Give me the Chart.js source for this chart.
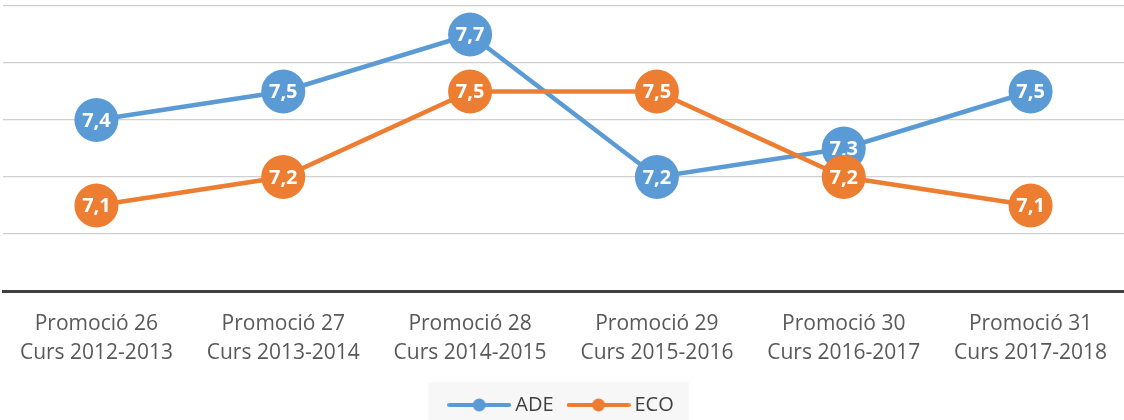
<!DOCTYPE html>
<html>
<head>
<meta charset="utf-8">
<script src="https://cdn.jsdelivr.net/npm/chart.js@4/dist/chart.umd.min.js"></script>
<style>
  html, body { margin: 0; padding: 0; background: #ffffff; }
  #wrap { width: 1124px; height: 420px; position: relative; }
</style>
</head>
<body>
<div id="wrap"><canvas id="myChart"></canvas></div>
<script>
// categories (two-line labels)
var promos = ['Promoció 26', 'Promoció 27', 'Promoció 28', 'Promoció 29', 'Promoció 30', 'Promoció 31'];
var cursos = ['Curs 2012-2013', 'Curs 2013-2014', 'Curs 2014-2015', 'Curs 2015-2016', 'Curs 2016-2017', 'Curs 2017-2018'];

// series values
var adeValues = [7.4, 7.5, 7.7, 7.2, 7.3, 7.5];
var ecoValues = [7.1, 7.2, 7.5, 7.5, 7.2, 7.1];

// y axis range
var yMin = 6.8;
var yMax = 7.8;
var yStep = 0.2;

var blue = '#5b9bd5';
var orange = '#ed7d31';
var fontName = '"Open Sans", "Liberation Sans", sans-serif';

// legend sample: line with dot in the middle
function legendSample(color) {
    var c = document.createElement('canvas');
    c.width = 64;
    c.height = 16;
    var g = c.getContext('2d');
    g.strokeStyle = color;
    g.lineWidth = 4;
    g.lineCap = 'round';
    g.beginPath();
    g.moveTo(2, 8);
    g.lineTo(62, 8);
    g.stroke();
    g.fillStyle = color;
    g.beginPath();
    g.arc(32, 8, 6.5, 0, Math.PI * 2);
    g.fill();
    return c;
}

// value labels written inside the points
var pointLabels = {
    id: 'pointLabels',
    afterDatasetDraw: function (chart, args) {
        var ctx = chart.ctx;
        var ds = chart.data.datasets[args.index];
        ctx.save();
        ctx.font = 'bold 20px ' + fontName;
        ctx.fillStyle = '#ffffff';
        ctx.textAlign = 'center';
        ctx.textBaseline = 'middle';
        args.meta.data.forEach(function (pt, i) {
            ctx.fillText(String(ds.data[i]).replace('.', ','), pt.x, pt.y + 1);
        });
        ctx.restore();
    }
};

// light grey box behind the legend
var legendBox = {
    id: 'legendBox',
    beforeDraw: function (chart) {
        var boxes = chart.legend && chart.legend.legendHitBoxes;
        if (!boxes || !boxes.length) return;
        var left = Math.min.apply(null, boxes.map(function (b) { return b.left; }));
        var right = Math.max.apply(null, boxes.map(function (b) { return b.left + b.width; }));
        var cy = boxes[0].top + boxes[0].height / 2;
        var ctx = chart.ctx;
        ctx.save();
        ctx.fillStyle = '#f7f7f7';
        ctx.fillRect(left - 25, cy - 23, right - left + 40, chart.height - (cy - 23));
        ctx.restore();
    }
};

var labels = promos.map(function (p, i) { return [p, cursos[i]]; });

var chartData = {
    labels: labels,
    datasets: [
        {
            label: 'ADE',
            data: adeValues,
            borderColor: blue,
            backgroundColor: blue,
            borderWidth: 4.5,
            pointRadius: 22,
            pointHoverRadius: 22,
            pointBorderWidth: 0,
            pointBackgroundColor: blue,
            order: 1,
            clip: false
        },
        {
            label: 'ECO',
            data: ecoValues,
            borderColor: orange,
            backgroundColor: orange,
            borderWidth: 4.5,
            pointRadius: 22,
            pointHoverRadius: 22,
            pointBorderWidth: 0,
            pointBackgroundColor: orange,
            order: 0,
            clip: false
        }]
};

var samples = [legendSample(blue), legendSample(orange)];

var ctx = document.getElementById('myChart').getContext('2d');
var myChart = new Chart(ctx, {
    type: 'line',
    data: chartData,
    plugins: [legendBox, pointLabels],
    options: {
        responsive: true,
        maintainAspectRatio: false,
        animation: false,
        layout: {
            autoPadding: false,
            padding: { left: 3, right: 0, top: 6, bottom: -5 }
        },
        plugins: {
            tooltip: { enabled: false },
            legend: {
                position: 'bottom',
                labels: {
                    font: { size: 20, family: fontName },
                    color: '#404040',
                    usePointStyle: true,
                    pointStyleWidth: 52,
                    boxHeight: 16,
                    padding: 19,
                    sort: function (a, b) { return a.datasetIndex - b.datasetIndex; },
                    generateLabels: function (chart) {
                        return chart.data.datasets.map(function (ds, i) {
                            return {
                                text: ds.label,
                                fillStyle: ds.borderColor,
                                strokeStyle: ds.borderColor,
                                lineWidth: 0,
                                pointStyle: samples[i],
                                fontColor: '#404040',
                                hidden: false,
                                datasetIndex: i
                            };
                        });
                    }
                }
            }
        },
        scales: {
            x: {
                offset: true,
                grid: { display: false, drawTicks: false },
                border: { display: true, color: '#404040', width: 3 },
                ticks: {
                    color: '#595959',
                    font: { size: 21, family: fontName, lineHeight: 1.38 },
                    padding: 19,
                    maxRotation: 0,
                    autoSkip: false
                },
                afterFit: function (scale) {
                    scale.height = 85;
                    scale.paddingLeft = 0;
                    scale.paddingRight = 0;
                }
            },
            y: {
                min: yMin,
                max: yMax,
                ticks: { display: false, stepSize: yStep },
                grid: { color: '#d0d0d0', lineWidth: 1.3, drawTicks: false },
                border: { display: false }
            }
        }
    }
});
</script>
</body>
</html>
